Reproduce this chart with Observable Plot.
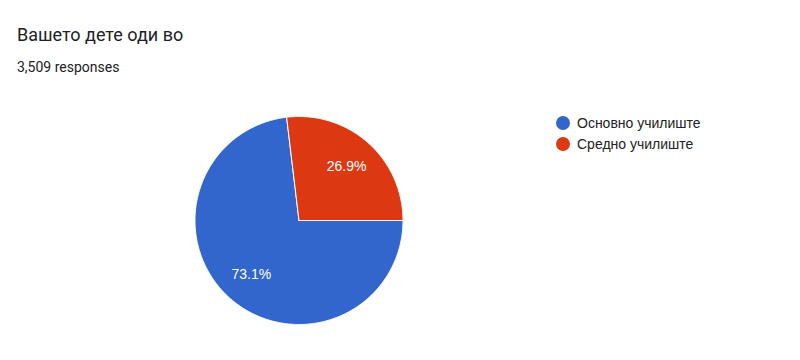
<!DOCTYPE html>
<html><head><meta charset="utf-8">
<script src="https://cdn.jsdelivr.net/npm/d3@7"></script>
<script src="https://cdn.jsdelivr.net/npm/@observablehq/plot@0.6"></script>
<style>
body{margin:0;background:#fff;}
#wrap{position:relative;width:800px;height:360px;overflow:hidden;background:#fff;}
#chart{position:absolute;left:0;top:0;}
#title{position:absolute;left:17px;top:25.5px;font-size:18px;line-height:1;font-family:Roboto,sans-serif;color:#202124;white-space:nowrap;}
#sub{position:absolute;left:17px;top:60px;font-size:14px;line-height:1;font-family:Roboto,sans-serif;color:#202124;white-space:nowrap;}
#legend{position:absolute;left:556px;top:112px;font-size:14px;font-family:'Liberation Sans',Arial,sans-serif;color:#222;}
.item{display:flex;align-items:center;height:21.5px;white-space:nowrap;}
.sw{width:14px;height:14px;border-radius:50%;margin-right:7px;flex:none;}
</style>
</head><body>
<div id="wrap">
  <div id="chart"></div>
  <div id="title"></div>
  <div id="sub"></div>
  <div id="legend"></div>
</div>
<script>
const titleText = "Вашето дете оди во";
const subtitleText = "3,509 responses";
const categories = ["Основно училиште", "Средно училиште"];
const shares = [73.1, 26.9];
const colors = ["#3366cc", "#dc3912"];

document.getElementById("title").textContent = titleText;
document.getElementById("sub").textContent = subtitleText;

const data = categories.map((c, i) => ({cat: c, value: shares[i]}));
const arcs = d3.pie().sort(null).value(d => d.value)
  .startAngle(Math.PI / 2).endAngle(Math.PI / 2 + 2 * Math.PI)(data);

const polys = [];
arcs.forEach(a => {
  polys.push({cat: a.data.cat, x: 0, y: 0});
  const n = Math.max(2, Math.ceil((a.endAngle - a.startAngle) / (Math.PI / 360)));
  for (let k = 0; k <= n; k++) {
    const t = a.startAngle + (a.endAngle - a.startAngle) * k / n;
    polys.push({cat: a.data.cat, x: Math.sin(t), y: Math.cos(t)});
  }
  polys.push({cat: a.data.cat, x: 0, y: 0});
});

const labels = arcs.map(a => {
  const m = (a.startAngle + a.endAngle) / 2;
  return {x: 0.69 * Math.sin(m), y: 0.69 * Math.cos(m), text: a.data.value.toFixed(1) + "%"};
});

const chart = Plot.plot({
  width: 800,
  height: 360,
  margin: 0,
  x: {domain: [-1, 1], range: [194.5, 402.5], axis: null},
  y: {domain: [-1, 1], range: [324, 116], axis: null},
  color: {domain: categories, range: colors},
  marks: [
    Plot.line(polys, {x: "x", y: "y", z: "cat", fill: "cat", stroke: "white", strokeWidth: 1, strokeLinejoin: "round"}),
    Plot.text(labels, {x: "x", y: "y", text: "text", fill: "white", fontSize: 14, fontFamily: "'Liberation Sans', Arial, sans-serif"})
  ]
});
chart.style.background = "transparent";
document.getElementById("chart").appendChild(chart);

const legend = document.getElementById("legend");
categories.forEach((c, i) => {
  const it = document.createElement("div");
  it.className = "item";
  const sw = document.createElement("span");
  sw.className = "sw";
  sw.style.background = colors[i];
  const tx = document.createElement("span");
  tx.textContent = c;
  it.appendChild(sw);
  it.appendChild(tx);
  legend.appendChild(it);
});
</script>
</body></html>
